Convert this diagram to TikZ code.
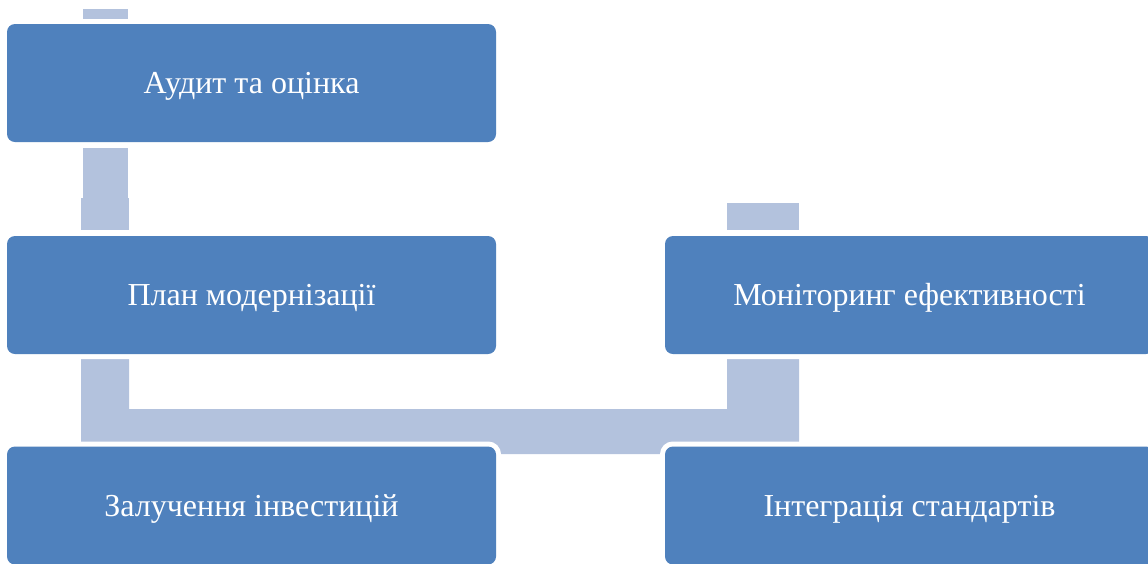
\documentclass[tikz,border=0pt]{standalone}
\usepackage{fontspec}
\setmainfont{Liberation Serif}
\definecolor{boxblue}{HTML}{4F81BD}
\definecolor{barblue}{HTML}{B3C2DD}
\tikzset{
  stagebox/.style={fill=boxblue, rounded corners=8pt, minimum width=489pt, minimum height=118pt,
    inner sep=0pt, text=white, font=\fontsize{32}{36}\selectfont, text height=21pt, text depth=0pt,
    preaction={draw=white, line width=10pt}},
  barfill/.style={fill=barblue, draw=none}
}
\begin{document}
\begin{tikzpicture}[x=1pt,y=-1pt]
\path[use as bounding box] (0,0) rectangle (1148,563);
\clip (0,0) rectangle (1148,563);
% connector bars
\fill[barfill] (83,9) rectangle (128,19);
\fill[barfill] (83,148) rectangle (128,198);
\fill[barfill] (81,198) rectangle (129,230);
\fill[barfill] (727,203) rectangle (799,230);
\fill[barfill] (81,359) -- (129,359) -- (129,409) -- (727,409) -- (727,359) -- (799,359) -- (799,454) -- (81,454) -- cycle;
% boxes
\node[stagebox] (audit) at (251.5,83) {Аудит та оцінка};
\node[stagebox] (plan) at (251.5,295) {План модернізації};
\node[stagebox] (monitor) at (909.5,295) {Моніторинг ефективності};
\node[stagebox] (invest) at (251.5,505.5) {Залучення інвестицій};
\node[stagebox] (integr) at (909.5,505.5) {Інтеграція стандартів};
\end{tikzpicture}
\end{document}
